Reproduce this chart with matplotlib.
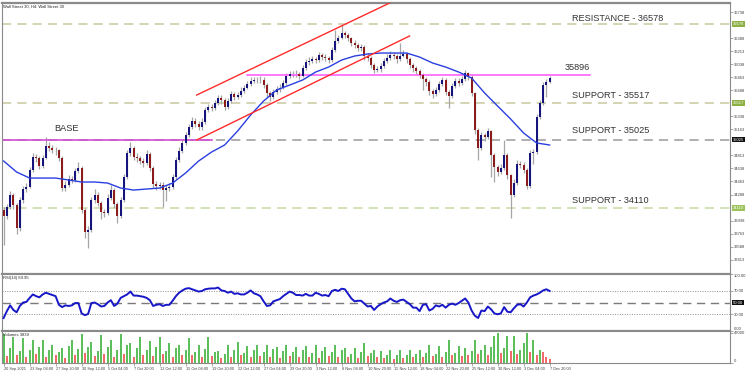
import numpy as np
import matplotlib.pyplot as plt
from matplotlib.transforms import blended_transform_factory

plt.rcParams['font.family'] = ['Liberation Sans', 'DejaVu Sans']

# Wall Street 30, 4h candles (two 4h bars merged per candle)
first_open = 34080
closes = [33999, 34120, 34281, 34147, 33838, 34214, 34362, 34389, 34617, 34792,
          34780, 34671, 34778, 34939, 34912, 34886, 34880, 34778, 34375, 34415,
          34496, 34483, 34603, 34644, 34080, 33784, 33811, 34214, 34281, 34174,
          34053, 34039, 34241, 34348, 34160, 33999, 34214, 34523, 34845, 34912,
          34792, 34778, 34738, 34711, 34832, 34644, 34429, 34402, 34415, 34348,
          34375, 34389, 34523, 34751, 34872, 34980, 35087, 35194, 35275, 35235,
          35194, 35262, 35423, 35463, 35450, 35517, 35584, 35557, 35463, 35544,
          35638, 35597, 35624, 35678, 35718, 35772, 35812, 35826, 35820, 35830,
          35758, 35651, 35597, 35664, 35705, 35718, 35785, 35879, 35906, 35900,
          35910, 35879, 35987, 36067, 36081, 36108, 36094, 36161, 36134, 36121,
          36094, 36228, 36349, 36390, 36457, 36430, 36390, 36322, 36296, 36255,
          36269, 36148, 36121, 36027, 35960, 35973, 36014, 36081, 36121, 36161,
          36148, 36108, 36148, 36175, 36108, 36027, 35987, 35946, 35893, 35839,
          35799, 35678, 35638, 35691, 35772, 35826, 35664, 35611, 35745, 35812,
          35785, 35839, 35920, 35866, 35651, 35154, 34912, 35087, 35060, 35141,
          34818, 34657, 34590, 34644, 34818, 34550, 34281, 34442, 34697, 34684,
          34617, 34402, 34845, 34859, 35329, 35517, 35758, 35799, 35852]
highs = [34120, 34160, 34330, 34310, 34170, 34250, 34400, 34440, 34660, 34840,
         34830, 34800, 34820, 35060, 34990, 34950, 34930, 34900, 34800, 34470,
         34550, 34540, 34650, 34720, 34670, 34110, 33860, 34260, 34360, 34320,
         34200, 34100, 34290, 34420, 34380, 34190, 34260, 34570, 34890, 34990,
         34940, 34840, 34810, 34780, 34890, 34860, 34670, 34470, 34460, 34450,
         34420, 34440, 34570, 34790, 34920, 35030, 35130, 35240, 35330, 35310,
         35270, 35310, 35470, 35510, 35500, 35560, 35630, 35620, 35580, 35590,
         35680, 35670, 35670, 35730, 35760, 35810, 35860, 35870, 35870, 35880,
         35860, 35780, 35680, 35710, 35750, 35770, 35830, 35920, 35950, 35950,
         35960, 35940, 36030, 36110, 36130, 36150, 36140, 36200, 36190, 36170,
         36150, 36270, 36497, 36430, 36564, 36490, 36460, 36410, 36360, 36320,
         36310, 36290, 36190, 36150, 36050, 36010, 36060, 36120, 36170, 36210,
         36200, 36180, 36322, 36230, 36200, 36130, 36060, 36010, 35970, 35920,
         35860, 35820, 35700, 35730, 35810, 35870, 35850, 35690, 35790, 35850,
         35850, 35880, 35960, 35940, 35890, 35670, 35180, 35130, 35120, 35180,
         35160, 34840, 34690, 34700, 35020, 34840, 34570, 34490, 34750, 34740,
         34730, 34640, 34890, 34900, 35370, 35560, 35800, 35840, 35880]
lows = [33610, 33960, 34090, 34100, 33760, 33800, 34180, 34320, 34370, 34590,
        34730, 34630, 34650, 34760, 34870, 34840, 34820, 34740, 34330, 34340,
        34390, 34440, 34460, 34580, 34040, 33700, 33570, 33790, 34180, 34130,
        33960, 33990, 34010, 34220, 34110, 33900, 33970, 34190, 34500, 34810,
        34750, 34730, 34700, 34660, 34690, 34600, 34380, 34350, 34360, 34120,
        34200, 34330, 34360, 34500, 34730, 34850, 34950, 35060, 35170, 35190,
        35150, 35160, 35240, 35390, 35410, 35420, 35490, 35510, 35420, 35440,
        35520, 35560, 35570, 35600, 35650, 35700, 35750, 35780, 35780, 35790,
        35720, 35600, 35550, 35570, 35640, 35670, 35700, 35760, 35850, 35860,
        35860, 35840, 35860, 35960, 36030, 36050, 36050, 36070, 36100, 36080,
        36050, 36070, 36200, 36320, 36370, 36390, 36350, 36280, 36250, 36210,
        36220, 36100, 36080, 35990, 35920, 35930, 35940, 35990, 36050, 36100,
        36110, 36060, 36080, 36130, 36060, 35990, 35940, 35900, 35850, 35691,
        35750, 35630, 35590, 35610, 35670, 35750, 35620, 35450, 35590, 35720,
        35740, 35760, 35810, 35820, 35610, 35100, 34751, 34880, 35010, 35030,
        34530, 34460, 34540, 34560, 34620, 34500, 33972, 34250, 34420, 34640,
        34580, 34360, 34380, 34700, 34830, 35300, 35490, 35600, 35780]

# moving average, read every 4 candles
ma_step = 4
ma_line = [34738, 34590, 34509, 34509, 34509, 34483, 34456, 34456, 34442, 34375,
           34348, 34362, 34375, 34442, 34577, 34738, 34859, 34953, 35141, 35356,
           35544, 35691, 35758, 35826, 35933, 36000, 36094, 36148, 36175, 36188,
           36188, 36188, 36134, 36054, 36000, 35933, 35852, 35651, 35476, 35302,
           35114, 34980, 34953]

rsi = [23, 35, 45, 37, 33, 44, 50, 51, 58, 64,
       61, 59, 64, 67, 65, 63, 61, 46, 42, 45,
       44, 45, 49, 49, 31, 28, 30, 49, 50, 47,
       43, 44, 50, 54, 44, 48, 58, 61, 64, 69,
       62, 62, 61, 60, 58, 54, 44, 46, 47, 44,
       46, 46, 53, 61, 67, 71, 74, 75, 73, 71,
       69, 70, 73, 74, 74.5, 74.5, 76, 71, 70, 67,
       69, 65, 66, 64, 64, 67, 71, 66, 64, 61,
       52, 44, 45, 52, 54, 56, 61, 65, 69, 67,
       63, 63, 62, 65, 62, 62, 67, 65, 62, 63,
       61, 70, 72, 70, 74, 73, 65, 57, 52, 53,
       53, 48, 43, 44, 37, 43, 47, 50, 52, 57,
       53, 51, 54, 55, 51, 47, 41, 41, 35, 46,
       47, 36, 39, 45, 43, 46, 41, 46, 48, 46,
       49, 53, 57, 50, 36, 27, 23, 36, 35, 43,
       38, 31, 29.5, 31, 42, 34, 33, 40, 46, 47,
       43, 50, 59, 62, 64, 67, 71, 73, 70]

# volumes in thousands
volumes = [44, 10, 22, 40, 12, 18, 38, 9, 20, 35,
           14, 24, 35, 8, 19, 28, 11, 16, 22, 7,
           26, 36, 12, 21, 45, 15, 24, 32, 10, 18,
           43, 13, 25, 35, 9, 20, 44, 14, 27, 30,
           8, 22, 40, 12, 19, 33, 10, 24, 40, 13,
           18, 31, 9, 22, 28, 11, 20, 38, 12, 17,
           28, 8, 21, 40, 10, 16, 18, 7, 14, 28,
           9, 19, 32, 11, 15, 26, 8, 20, 28, 10,
           17, 28, 9, 21, 25, 7, 18, 28, 10, 16,
           24, 8, 19, 26, 9, 15, 28, 7, 18, 24,
           10, 16, 27, 8, 20, 22, 9, 14, 23, 7,
           17, 30, 10, 15, 20, 8, 18, 7, 12, 20,
           6, 11, 20, 7, 12, 20, 8, 13, 20, 9,
           15, 28, 10, 14, 26, 9, 16, 36, 12, 15,
           26, 10, 22, 12, 18, 35, 14, 20, 28, 12,
           24, 42, 46, 15, 22, 42, 18, 42, 14, 20,
           30, 47, 16, 36, 12, 20, 17, 8, 5]

date_labels = ['20 Sep 2021', '23 Sep 04:00', '27 Sep 20:00', '30 Sep 12:00', '5 Oct 04:00',
               '7 Oct 20:00', '12 Oct 12:00', '15 Oct 04:00', '19 Oct 20:00', '22 Oct 12:00',
               '27 Oct 04:00', '29 Oct 20:00', '3 Nov 12:00', '8 Nov 04:00', '10 Nov 20:00',
               '15 Nov 12:00', '18 Nov 04:00', '22 Nov 20:00', '25 Nov 12:00', '30 Nov 12:00',
               '3 Dec 04:00', '7 Dec 20:00']
label_step = 8

price_ticks = [36738, 36388, 36213, 36038, 35863, 35688, 35338, 35163, 34813,
               34638, 34463, 34288, 33938, 33763, 33588, 33413]
resistance = 36578
supports = [35517, 35025, 34110]
pivot = 35896

# hand-drawn channel (candle index, price)
channel_upper = ([59.4, 119.4], [35624, 36873])
channel_lower = ([59.4, 124.9], [35020, 36417])
base_line = ([-0.5, 64.0], [35025, 35025])
pivot_line = ([74.8, 180.3], [pivot, pivot])

closes = np.array(closes)
opens = np.r_[first_open, closes[:-1]]
idx = np.arange(len(closes))

W, H = 750, 372
fig = plt.figure(figsize=(W / 100, H / 100), dpi=100)


def px_axes(x0, y0, x1, y1):
    return fig.add_axes([x0 / W, 1 - y1 / H, (x1 - x0) / W, (y1 - y0) / H])


ax = px_axes(2, 3, 730, 273.75)
ax_r = px_axes(2, 273.75, 730, 331.25)
ax_v = px_axes(2, 331.25, 730, 362.5)

xmin, xmax = -0.5, 223.5
grey = '#8a8a8a'
for a in (ax, ax_r, ax_v):
    a.set_xlim(xmin, xmax)
    for s in a.spines.values():
        s.set_color(grey)
        s.set_linewidth(0.8)
    a.yaxis.tick_right()
    a.tick_params(axis='y', length=2, width=0.5, color=grey, labelsize=3.0,
                  labelcolor='#404040', pad=1)
    a.tick_params(axis='x', bottom=False, labelbottom=False)
ax.spines['bottom'].set_linewidth(1.6)
ax_r.spines['bottom'].set_linewidth(1.6)
ax.spines['top'].set_linewidth(1.6)

# ---- price panel
ax.set_ylim(33224, 36860)
ax.set_yticks(price_ticks)
ax.set_yticklabels([str(t) for t in price_ticks])

up = closes >= opens
ax.vlines(idx, lows, highs, color='#a6a6a6', lw=0.9, zorder=2)
body_lo = np.minimum(opens, closes)
body_h = np.maximum(np.abs(closes - opens), 8)
ax.bar(idx[up], body_h[up], bottom=body_lo[up], width=0.62, color='#14147a', zorder=3)
ax.bar(idx[~up], body_h[~up], bottom=body_lo[~up], width=0.62, color='#8c1c1c', zorder=3)

ax.plot(np.arange(len(ma_line)) * ma_step, ma_line, color='#2a3fe0', lw=1.0, zorder=4)

dash = (0, (6, 4))
ax.axhline(resistance, color='#c9c9a0', ls=dash, lw=1.1, zorder=1)
ax.axhline(supports[0], color='#c9c9a0', ls=dash, lw=1.1, zorder=1)
ax.axhline(supports[1], color='#9a9a9a', ls=dash, lw=1.1, zorder=1)
ax.axhline(supports[2], color='#c8dba0', ls=dash, lw=1.1, zorder=1)

ax.plot(*channel_upper, color='#ff2a2a', lw=1.0, zorder=5)
ax.plot(*channel_lower, color='#ff2a2a', lw=1.0, zorder=5)
ax.plot(*base_line, color='#d24fd2', lw=1.2, zorder=2)
ax.plot(*pivot_line, color='#ff55ff', lw=1.1, zorder=2)

txt = dict(fontsize=6.6, color='#333333', va='center', ha='left')
ax.text(175, 36658, 'RESISTANCE - %d' % resistance, **txt)
ax.text(172.6, 36000, str(pivot), **txt)
ax.text(175, 35624, 'SUPPORT - %d' % supports[0], **txt)
ax.text(175, 35154, 'SUPPORT - %d' % supports[1], **txt)
ax.text(175, 34201, 'SUPPORT - %d' % supports[2], **txt)
ax.text(15.7, 35181, 'BASE', **txt)

ax.text(0.002, 0.995, 'Wall Street 30, H4: Wall Street 30', transform=ax.transAxes,
        fontsize=3, color='#222222', va='top', ha='left')

tr = blended_transform_factory(ax.transAxes, ax.transData)
box_cols = {resistance: '#8db043', supports[0]: '#8db043', supports[1]: '#111111',
            supports[2]: '#9cc25a'}
for lvl, col in box_cols.items():
    ax.text(1.004, lvl, str(lvl), transform=tr, fontsize=3.0, color='white',
            va='center', ha='left', clip_on=False, zorder=10,
            bbox=dict(boxstyle='square,pad=0.2', fc=col, ec='none'))

# ---- RSI panel
ax_r.set_ylim(0, 100)
ax_r.plot(idx, rsi, color='#1717c8', lw=1.4, zorder=3)
ax_r.axhline(70, color='#909090', ls=(0, (1, 1.5)), lw=0.7)
ax_r.axhline(30, color='#909090', ls=(0, (1, 1.5)), lw=0.7)
ax_r.axhline(50, color='#7a7a7a', ls=dash, lw=1.0)
ax_r.set_yticks([0, 30, 70, 100])
ax_r.set_yticklabels(['0.00', '30.00', '70.00', '100.00'])
lbl = ax_r.get_yticklabels()
lbl[0].set_va('bottom')
lbl[-1].set_va('top')
tr_r = blended_transform_factory(ax_r.transAxes, ax_r.transData)
ax_r.text(1.004, 50, '50.00', transform=tr_r, fontsize=3.0, color='white', va='center',
          ha='left', clip_on=False, bbox=dict(boxstyle='square,pad=0.2', fc='#111111', ec='none'))
ax_r.text(0.002, 0.96, 'RSI(14) 69.95', transform=ax_r.transAxes, fontsize=3,
          color='#222222', va='top', ha='left')

# ---- volume panel
vol = np.array(volumes) * 1000
vcol = ['#5cbf5c' if i == 0 or vol[i] >= vol[i - 1] else '#f26b6b' for i in idx]
ax_v.bar(idx, vol, width=0.6, color=vcol, zorder=2)
ax_v.set_ylim(0, 49000)
ax_v.set_yticks([0, 47000])
ax_v.set_yticklabels(['0', '47000'])
ax_v.get_yticklabels()[0].set_va('bottom')
ax_v.text(0.002, 0.96, 'Volumes 3839', transform=ax_v.transAxes, fontsize=3,
          color='#222222', va='top', ha='left')

ax_v.set_xticks(np.arange(len(date_labels)) * label_step)
ax_v.set_xticklabels(date_labels)
ax_v.tick_params(axis='x', bottom=True, labelbottom=True, length=2, width=0.5,
                 color=grey, labelsize=2.8, labelcolor='#404040', pad=1)
for t in ax_v.get_xticklabels():
    t.set_ha('left')

fig.savefig('out.png', dpi=100, facecolor='white')
